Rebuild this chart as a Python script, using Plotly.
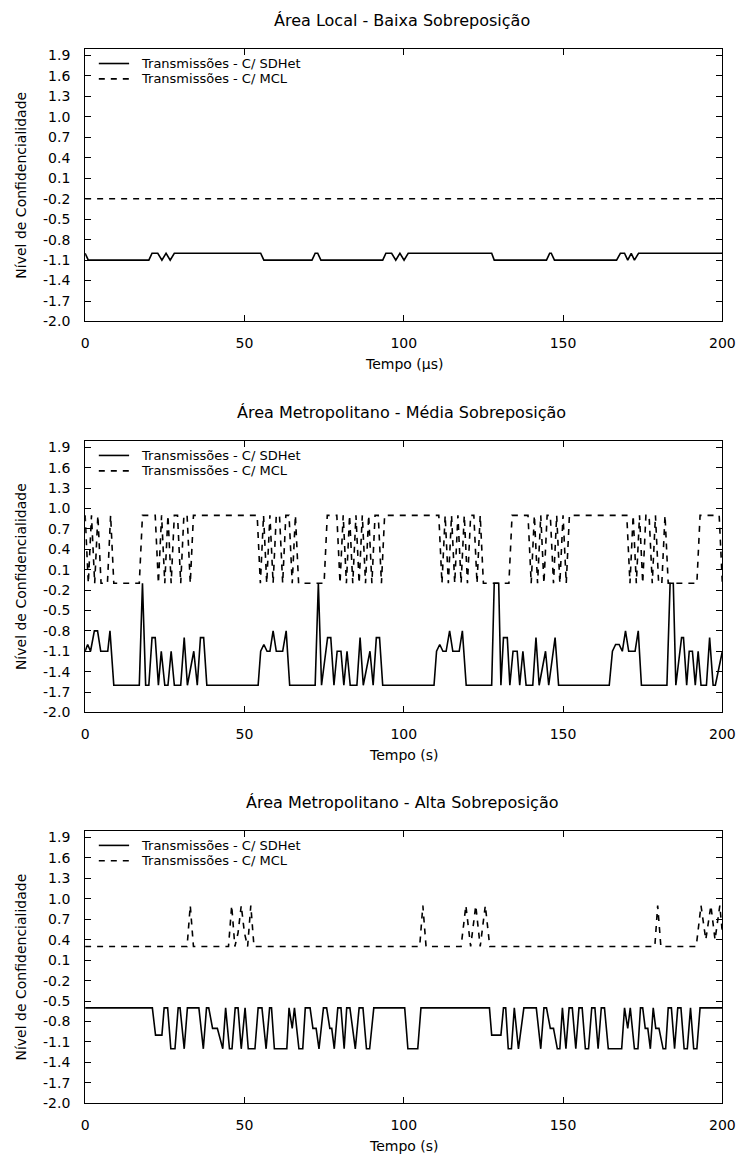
import plotly.graph_objects as go

W, H = 751, 1160
PLOT_L, PLOT_R = 83, 735
PANELS = [(48, 323), (443, 717), (836, 1111)]

titles = ["Área Local - Baixa Sobreposição",
          "Área Metropolitano - Média Sobreposição",
          "Área Metropolitano - Alta Sobreposição"]
xlabels = ["Tempo (µs)", "Tempo (s)", "Tempo (s)"]
ylabel = "Nível de Confidencialidade"
series_names = ["Transmissões - C/ SDHet", "Transmissões - C/ MCL"]
x_ticks = [0, 50, 100, 150, 200]
y_ticks = [-2.0, -1.7, -1.4, -1.1, -0.8, -0.5, -0.2, 0.1, 0.4, 0.7, 1.0, 1.3, 1.6, 1.9]

# ---- Panel 1 : Área Local - Baixa Sobreposição
p1_sdhet_t = [0, 1, 20, 21, 22.8, 24.1, 25.4, 26.7, 28, 55.1, 56.1, 71.2, 72.2, 73, 74,
              93.4, 94.4, 96.2, 97.5, 98.8, 100.1, 101.4, 127.6, 128.4, 144.8, 145.8, 146.3, 147.3,
              166.8, 168, 169.3, 170.3, 171.4, 172.4, 173.7, 200]
p1_sdhet_v = [-1.0, -1.1, -1.1, -1.0, -1.0, -1.1, -1.0, -1.1, -1.0, -1.0, -1.1, -1.1, -1.0, -1.0, -1.1,
              -1.1, -1.0, -1.0, -1.1, -1.0, -1.1, -1.0, -1.0, -1.1, -1.1, -1.0, -1.0, -1.1,
              -1.1, -1.0, -1.0, -1.1, -1.0, -1.1, -1.0, -1.0]
p1_mcl_t = [0, 200]
p1_mcl_v = [-0.2, -0.2]

# ---- Panel 2 : Área Metropolitano - Média Sobreposição
p2_sdhet_t = [0, 0.8, 1.7, 2.9, 3.9, 4.9, 7.1, 7.8, 9, 17, 18, 19, 20, 21, 22, 23, 23.9, 25, 26, 27, 28,
              30, 31.1, 32.1, 34.1, 35.2, 36.2, 37.2, 38.2, 54.3, 55.1, 56.1, 57.1, 58, 59, 60, 62, 63.1,
              64.2, 72.2, 73.2, 74.2, 76.1, 77.1, 78.1, 79.1, 80.3, 81.2, 82.2, 83.2, 85.3, 86.3, 87.3,
              89.4, 90.4, 91.4, 92.4, 93.4, 109.5, 110.3, 111.3, 112.3, 113.3, 114.4, 115.4, 117.4,
              118.4, 119.6, 127.6, 128.4, 129.8, 130.5, 131.3, 132.5, 133.3, 134.3, 135.6, 136.4, 137.4,
              138.4, 140.5, 141.5, 142.5, 144.5, 145.5, 147.5, 148.6, 164.5, 165.5, 166.5, 167.6, 168.6,
              169.6, 170.6, 172.6, 173.6, 174.6, 182.6, 183.6, 184.6, 185.4, 187.2, 187.8, 188.8, 189.6,
              190.6, 191.5, 192.4, 193.3, 195, 196, 197.1, 197.8, 200]
p2_sdhet_v = [-1.1, -1.0, -1.1, -0.8, -0.8, -1.1, -1.1, -0.8, -1.6, -1.6, -0.1, -1.6, -1.6, -0.9, -0.9, -1.6,
              -1.1, -1.6, -1.6, -1.1, -1.6, -1.6, -0.9, -1.6, -1.1, -1.6, -0.9, -0.9, -1.6, -1.6, -1.1, -1.0,
              -1.1, -1.1, -0.8, -1.1, -1.1, -0.8, -1.6, -1.6, -0.1, -1.6, -0.9, -0.9, -1.6, -1.1, -1.1, -1.6,
              -1.1, -1.6, -1.6, -0.9, -1.6, -1.1, -1.6, -0.9, -0.9, -1.6, -1.6, -1.1, -1.0, -1.1, -1.1, -0.8,
              -1.1, -1.1, -0.8, -1.6, -1.6, -0.1, -0.1, -1.6, -0.9, -0.9, -1.6, -1.1, -1.1, -1.6, -1.1, -1.6,
              -1.6, -0.9, -1.6, -1.1, -1.6, -0.9, -1.6, -1.6, -1.1, -1.0, -1.0, -1.1, -0.8, -1.1, -1.1, -0.8,
              -1.6, -1.6, -0.1, -0.1, -1.6, -0.9, -0.9, -1.6, -1.1, -1.1, -1.6, -1.1, -1.6, -1.6, -0.9, -1.6,
              -1.6, -1.1]
p2_mcl_t = [0, 1, 2, 3, 4, 5, 7, 8, 9, 17, 18, 22, 23, 24, 25, 26, 27, 28, 29, 30, 31, 32, 33, 34,
            54, 55, 56, 57, 58, 59, 60, 61, 62, 63, 64, 65, 66, 67, 75, 76, 79, 80, 81, 82, 83, 84, 85,
            86, 87, 88, 89, 90, 91, 92, 93, 94, 111, 112, 113, 114, 115, 116, 117, 118, 119, 120, 121,
            122, 123, 124, 125, 133, 134, 139, 140, 141, 142, 143, 144, 145, 146, 147, 148, 149, 150,
            151, 152, 170, 171, 172, 173, 174, 175, 176, 177, 178, 179, 180, 181, 182, 183, 192, 193,
            199, 200]
p2_mcl_v = [0.9, -0.1, 0.9, -0.1, 0.9, -0.1, -0.1, 0.9, -0.1, -0.1, 0.9, 0.9, -0.1, 0.9, -0.1, 0.9, -0.1,
            0.9, 0.9, -0.1, 0.9, 0.9, -0.1, 0.9, 0.9, -0.1, 0.9, -0.1, 0.9, -0.1, 0.9, 0.9, -0.1, 0.9, 0.9,
            -0.1, 0.9, -0.1, -0.1, 0.9, 0.9, -0.1, 0.9, -0.1, 0.9, -0.1, 0.9, -0.1, 0.9, -0.1, 0.9, -0.1,
            0.9, 0.9, -0.1, 0.9, 0.9, -0.1, 0.9, -0.1, 0.9, -0.1, 0.9, -0.1, 0.9, -0.1, 0.9, 0.9, -0.1,
            0.9, -0.1, -0.1, 0.9, 0.9, -0.1, 0.9, -0.1, 0.9, -0.1, 0.9, 0.9, -0.1, 0.9, -0.1, 0.9, -0.1,
            0.9, 0.9, -0.1, 0.9, -0.1, 0.9, -0.1, 0.9, 0.9, -0.1, 0.9, -0.1, -0.1, 0.9, -0.1, -0.1, 0.9,
            0.9, -0.1]

# ---- Panel 3 : Área Metropolitano - Alta Sobreposição
p3_sdhet_t = [0, 21.1, 22.1, 24.1, 24.8, 25.9, 26.9, 28.2, 29.2, 29.8, 31.1, 32.1, 35.7, 37.1, 38.1, 38.8,
              40, 41.5, 43.2, 44.1, 45.3, 46.1, 47.1, 48, 49, 50.2, 51.2, 53.3, 54.3, 55.5, 56.8, 57.9,
              58.5, 59.4, 63.3, 64, 65, 65.7, 67.1, 68.3, 69.1, 70.6, 71.5, 72.5, 73.4, 74.8, 75.8, 76.8,
              77.4, 78.2, 79.3, 80.3, 81.3, 82.1, 83.1, 84.8, 86, 87.2, 88.3, 89.3, 90.6, 100.3, 101.3,
              104.4, 105.4, 126.9, 127.6, 130.5, 131.3, 132, 132.8, 133.8, 134.7, 136, 137.7, 141.6, 143,
              144, 144.8, 146, 147, 148.2, 149, 149.8, 150.9, 151.9, 152.9, 154, 155, 156, 157, 158, 159,
              160, 161, 162, 163, 164.2, 168.4, 169.3, 170.3, 171.1, 172.4, 173.5, 174.3, 175, 175.8,
              176.6, 177.4, 178.3, 179.1, 180.1, 181.4, 182.2, 183, 184, 185, 186, 187, 188, 189, 190,
              191, 192, 193, 200]
p3_sdhet_v = [-0.6, -0.6, -1.0, -1.0, -0.6, -0.6, -1.2, -1.2, -0.6, -0.6, -1.2, -0.6, -0.6, -1.2, -0.6, -0.6,
              -0.9, -0.9, -1.2, -0.6, -1.2, -1.2, -0.6, -0.6, -1.2, -0.6, -1.2, -1.2, -0.6, -0.6, -1.2, -0.6,
              -0.6, -1.2, -1.2, -0.6, -0.9, -0.6, -1.2, -1.2, -0.6, -0.6, -0.9, -0.9, -1.2, -0.6, -0.6, -0.9,
              -0.9, -1.2, -0.6, -0.6, -1.2, -0.6, -0.6, -1.2, -0.6, -0.6, -1.2, -1.2, -0.6, -0.6, -1.2,
              -1.2, -0.6, -0.6, -1.0, -1.0, -0.6, -0.6, -1.2, -1.2, -0.6, -1.2, -0.6, -0.6, -1.2,
              -0.6, -0.6, -0.9, -0.9, -1.2, -1.2, -0.6, -1.2, -0.6, -0.6, -1.2, -0.6, -0.6, -1.2, -1.2, -0.6,
              -0.6, -1.2, -0.6, -0.6, -1.2, -1.2, -0.6, -0.9, -0.6, -1.2, -1.2, -0.6, -0.6, -0.9,
              -0.9, -1.2, -0.6, -0.9, -0.9, -1.2, -1.2, -0.6, -0.6, -1.2, -0.6, -0.6, -1.2, -1.2, -0.6,
              -1.2, -1.2, -0.6, -0.6]
p3_mcl_t = [0, 32, 33, 34, 45, 46, 47, 48, 49, 50, 51, 52, 53, 105, 106, 107, 118, 119.5, 121, 122.6,
            124, 125.6, 127, 178.8, 179.7, 180.7, 191.8, 193.3, 194.8, 196.4, 197.7, 199.2, 200]
p3_mcl_v = [0.3, 0.3, 0.9, 0.3, 0.3, 0.9, 0.3, 0.5, 0.9, 0.5, 0.3, 0.9, 0.3, 0.3, 0.9, 0.3, 0.3, 0.9,
            0.3, 0.9, 0.3, 0.9, 0.3, 0.3, 0.9, 0.3, 0.3, 0.9, 0.4, 0.9, 0.4, 0.9, 0.5]

data = [
    (p1_sdhet_t, p1_sdhet_v, p1_mcl_t, p1_mcl_v),
    (p2_sdhet_t, p2_sdhet_v, p2_mcl_t, p2_mcl_v),
    (p3_sdhet_t, p3_sdhet_v, p3_mcl_t, p3_mcl_v),
]

FONT = "DejaVu Sans"
FS = 14
FS_TITLE = 16
FS_KEY = 13
LW = 1.6
DASH = "6px,6px"


def px_x(x):
    return x / W


def px_y(y):
    return 1 - y / H


fig = go.Figure()
annotations = []
shapes = []
layout = {}

for i, ((st, sv, mt, mv), (top, bot)) in enumerate(zip(data, PANELS)):
    n = "" if i == 0 else str(i + 1)
    xa, ya = "x" + n, "y" + n
    fig.add_trace(go.Scatter(x=st, y=sv, mode="lines", name=series_names[0], showlegend=False,
                             line=dict(color="black", width=LW), xaxis=xa, yaxis=ya))
    fig.add_trace(go.Scatter(x=mt, y=mv, mode="lines", name=series_names[1], showlegend=False,
                             line=dict(color="black", width=LW, dash=DASH), xaxis=xa, yaxis=ya))
    layout["xaxis" + n] = dict(
        domain=[px_x(PLOT_L), px_x(PLOT_R)], range=[0, 200], anchor=ya,
        tickvals=x_ticks, ticktext=[str(v) for v in x_ticks],
        ticks="inside", ticklen=6, tickcolor="black", mirror="ticks",
        showline=True, linecolor="black", linewidth=1,
        showgrid=False, zeroline=False, ticklabelstandoff=9,
        tickfont=dict(family=FONT, size=FS, color="black"))
    layout["yaxis" + n] = dict(
        domain=[px_y(bot), px_y(top)], range=[-2, 2], anchor=xa,
        tickvals=y_ticks, ticktext=["%.1f" % v for v in y_ticks],
        ticks="inside", ticklen=6, tickcolor="black", mirror="ticks",
        showline=True, linecolor="black", linewidth=1,
        showgrid=False, zeroline=False, ticklabelstandoff=11,
        tickfont=dict(family=FONT, size=FS, color="black"))
    # title
    annotations.append(dict(text=titles[i], x=px_x(407), y=px_y(top - 28), xref="paper", yref="paper",
                            showarrow=False, xanchor="center", yanchor="middle",
                            font=dict(family=FONT, size=FS_TITLE, color="black")))
    # x label
    annotations.append(dict(text=xlabels[i], x=px_x((PLOT_L + PLOT_R) / 2), y=px_y(bot + 43),
                            xref="paper", yref="paper", showarrow=False, xanchor="center",
                            yanchor="middle", font=dict(family=FONT, size=FS, color="black")))
    # y label
    annotations.append(dict(text=ylabel, x=px_x(17), y=px_y((top + bot) / 2), xref="paper",
                            yref="paper", showarrow=False, textangle=-90, xanchor="center",
                            yanchor="middle", font=dict(family=FONT, size=FS, color="black")))
    # legend (drawn key)
    for k in range(2):
        ly = top + 15 + 15.5 * k
        shapes.append(dict(type="line", xref="paper", yref="paper", x0=px_x(97), x1=px_x(128),
                           y0=px_y(ly), y1=px_y(ly),
                           line=dict(color="black", width=LW, dash="solid" if k == 0 else DASH)))
        annotations.append(dict(text=series_names[k], x=px_x(139), y=px_y(ly), xref="paper",
                                yref="paper", showarrow=False, xanchor="left", yanchor="middle",
                                borderpad=0,
                                font=dict(family=FONT, size=FS_KEY, color="black")))

fig.update_layout(width=W, height=H, margin=dict(l=0, r=0, t=0, b=0),
                  paper_bgcolor="white", plot_bgcolor="white",
                  font=dict(family=FONT, size=FS, color="black"),
                  annotations=annotations, shapes=shapes, showlegend=False, **layout)

fig.write_html("out.html")
